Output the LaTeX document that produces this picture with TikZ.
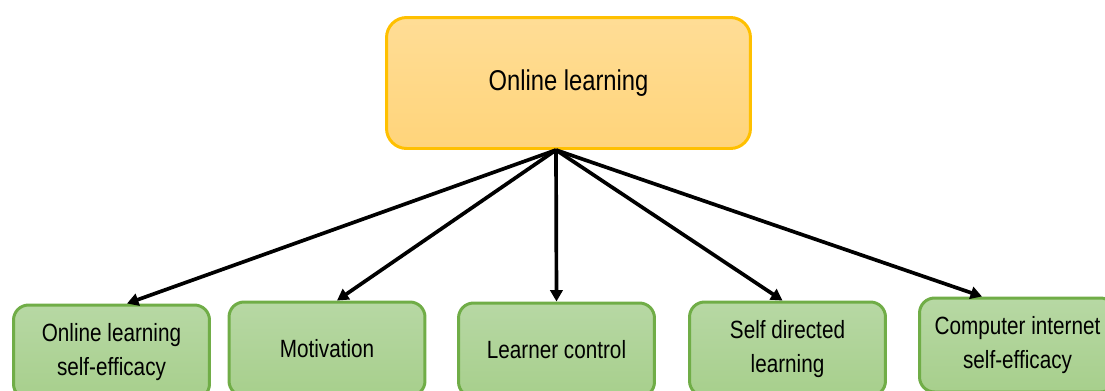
\documentclass[tikz,border=0pt]{standalone}
\usepackage{fontspec}
\setmainfont[FakeStretch=0.83]{Liberation Sans}
\usetikzlibrary{arrows.meta}
\definecolor{topline}{HTML}{FFC000}
\definecolor{toplight}{HTML}{FFDD96}
\definecolor{topdark}{HTML}{FFD47A}
\definecolor{subline}{HTML}{70AD47}
\definecolor{sublight}{HTML}{B7D8A4}
\definecolor{subdark}{HTML}{A7CF8C}
\begin{document}
\begin{tikzpicture}[x=0.02cm,y=-0.02cm]
            \tikzset{
                mainbox/.style={draw=topline,line width=1.7pt,rounded corners=0.4cm,
                    top color=toplight,bottom color=topdark,
                    minimum width=7.28cm,minimum height=2.62cm,
                    font=\fontsize{16.3}{19}\selectfont},
                subbox/.style={draw=subline,line width=1.7pt,rounded corners=0.3cm,
                    top color=sublight,bottom color=subdark,
                    minimum width=3.92cm,minimum height=1.88cm,align=center,
                    font=\fontsize{14.2}{18.9}\selectfont},
                link/.style={line width=2.1pt,-{Triangle[length=6.5pt,width=7pt]}},}
            \clip (0,0) rectangle (1105,390);
            \node [mainbox] (top) at (568.5,83) {Online learning};
            \coordinate (hub) at (556,150);
            \node [subbox] (olse) at (111.5,352) {Online learning\\self-efficacy};
            \node [subbox] (motiv) at (327,349) {Motivation};
            \node [subbox] (lctrl) at (556.5,350) {Learner control};
            \node [subbox] (sdl) at (787.5,349) {Self directed\\learning};
            \node [subbox] (cise) at (1017.5,345) {Computer internet\\self-efficacy};
            \draw [link] (hub) -- ([xshift=0.31cm]olse.north);
            \draw [link] (hub) -- ([xshift=0.2cm]motiv.north);
            \draw [link] (hub) -- (lctrl.north);
            \draw [link] (hub) -- ([xshift=-0.1cm]sdl.north);
            \draw [link] (hub) -- ([xshift=-0.71cm]cise.north);
            % \draw [help lines] (0,0) grid[step=50] (1105,390);
        \end{tikzpicture}
\end{document}
